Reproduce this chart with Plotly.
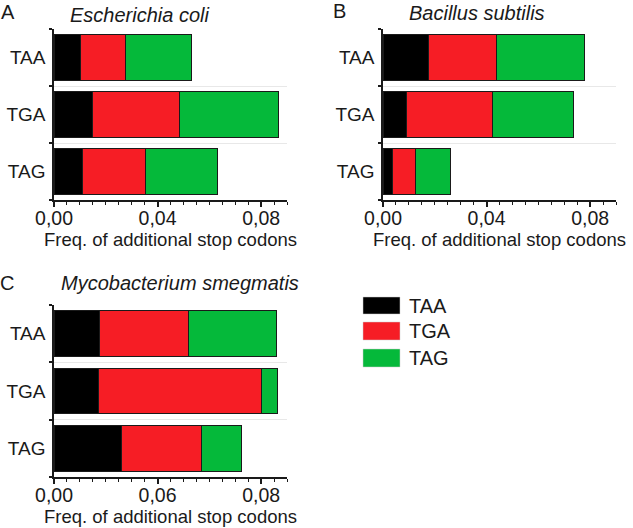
import plotly.graph_objects as go

W, H = 633, 528

codons = ["TAA", "TGA", "TAG"]          # y categories (top to bottom)
series_names = ["TAA", "TGA", "TAG"]     # stacked segments / legend
series_colors = ["#000000", "#F61D25", "#05B93A"]

# Escherichia coli
ecoli_taa = [0.0103, 0.0147, 0.0109]
ecoli_tga = [0.0174, 0.0338, 0.0244]
ecoli_tag = [0.0256, 0.0382, 0.0280]

# Bacillus subtilis
bsub_taa = [0.0174, 0.0090, 0.0037]
bsub_tga = [0.0266, 0.0332, 0.0087]
bsub_tag = [0.0340, 0.0313, 0.0136]

# Mycobacterium smegmatis
msmeg_taa = [0.0174, 0.0172, 0.0260]
msmeg_tga = [0.0345, 0.0630, 0.0308]
msmeg_tag = [0.0341, 0.0062, 0.0157]

xtick_vals = [0, 0.04, 0.08]
xtick_text_ab = ["0,00", "0,04", "0,08"]
xtick_text_c = ["0,00", "0,06", "0,08"]

panel_titles = ["Escherichia coli", "Bacillus subtilis", "Mycobacterium smegmatis"]
panel_letters = ["A", "B", "C"]
x_title = "Freq. of additional stop codons"

FONT = "Liberation Sans, Arial, sans-serif"

fig = go.Figure()

panels = [
    ([ecoli_taa, ecoli_tga, ecoli_tag], "x", "y", xtick_text_ab),
    ([bsub_taa, bsub_tga, bsub_tag], "x2", "y2", xtick_text_ab),
    ([msmeg_taa, msmeg_tga, msmeg_tag], "x3", "y3", xtick_text_c),
]

for data, xa, ya, _ in panels:
    for vals, name, col in zip(data, series_names, series_colors):
        fig.add_trace(go.Bar(
            x=vals, y=codons, orientation="h", name=name,
            marker=dict(color=col, line=dict(color="#1a1a1a", width=1)),
            xaxis=xa, yaxis=ya, showlegend=False,
        ))

def px_x(p):
    return p / W

def px_y(p):
    return 1 - p / H

domains = [
    ((54, 287), (29, 200)),
    ((383, 616), (29, 200)),
    ((54, 287), (305, 477)),
]

layout = dict(
    template="none",
    width=W, height=H,
    margin=dict(l=0, r=0, t=0, b=0, autoexpand=False),
    barmode="stack", bargap=0.2,
    plot_bgcolor="white", paper_bgcolor="white",
    font=dict(family=FONT, color="#1a1a1a", size=18),
    showlegend=False,
)

for i, ((x0, x1), (y0, y1)) in enumerate(domains):
    sfx = "" if i == 0 else str(i + 1)
    layout["xaxis" + sfx] = dict(
        domain=[px_x(x0), px_x(x1)], anchor="y" + sfx, automargin=False,
        range=[0, 0.09], tickvals=xtick_vals, ticktext=panels[i][3],
        showline=True, linecolor="#1a1a1a", linewidth=1.5,
        ticks="outside", ticklen=5, tickwidth=1.5, tickcolor="#1a1a1a",
        minor=dict(dtick=0.005, ticks="outside", ticklen=3, tickwidth=1, tickcolor="#1a1a1a", showgrid=False),
        showgrid=False, zeroline=False,
        tickfont=dict(size=19.5), ticklabelstandoff=-5,
        title=dict(text=x_title, font=dict(size=18.5), standoff=1),
    )
    layout["yaxis" + sfx] = dict(
        domain=[px_y(y1), px_y(y0)], anchor="x" + sfx, automargin=False,
        type="category", categoryorder="array", categoryarray=codons[::-1],
        range=[-0.5, 2.5], tickson="boundaries",
        showline=True, linecolor="#1a1a1a", linewidth=1.5,
        ticks="outside", ticklen=3, tickwidth=1.5, tickcolor="#1a1a1a",
        showgrid=True, gridcolor="#e8e8e8", gridwidth=1,
        zeroline=False, tickfont=dict(size=19), ticklabelstandoff=3,
    )

annotations = []
title_pos = [(140, 15), (477, 13), (180, 283)]
letter_pos = [(8, 12), (339, 11), (7, 283)]
for t, (tx, ty) in zip(panel_titles, title_pos):
    annotations.append(dict(text="<i>" + t + "</i>", x=px_x(tx), y=px_y(ty), xref="paper", yref="paper",
                            xanchor="center", yanchor="middle", showarrow=False, font=dict(size=20)))
for t, (tx, ty) in zip(panel_letters, letter_pos):
    annotations.append(dict(text=t, x=px_x(tx), y=px_y(ty), xref="paper", yref="paper",
                            xanchor="center", yanchor="middle", showarrow=False, font=dict(size=20)))

# legend drawn as swatches + labels
shapes = []
leg_rows = [(297, 314), (322, 340), (349, 367)]
for (r0, r1), name, col in zip(leg_rows, series_names, series_colors):
    shapes.append(dict(type="rect", xref="paper", yref="paper",
                       x0=px_x(363), x1=px_x(400), y0=px_y(r1), y1=px_y(r0),
                       fillcolor=col, line=dict(color="#cccccc", width=0.5)))
    annotations.append(dict(text=name, x=px_x(407), y=px_y((r0 + r1) / 2), xref="paper", yref="paper",
                            xanchor="left", yanchor="middle", showarrow=False, font=dict(size=20)))

layout["annotations"] = annotations
layout["shapes"] = shapes
fig.update_layout(**layout)

fig.write_html("out.html", config={"displayModeBar": False},
               post_script="document.body.style.margin='0';document.body.style.overflow='hidden';")
